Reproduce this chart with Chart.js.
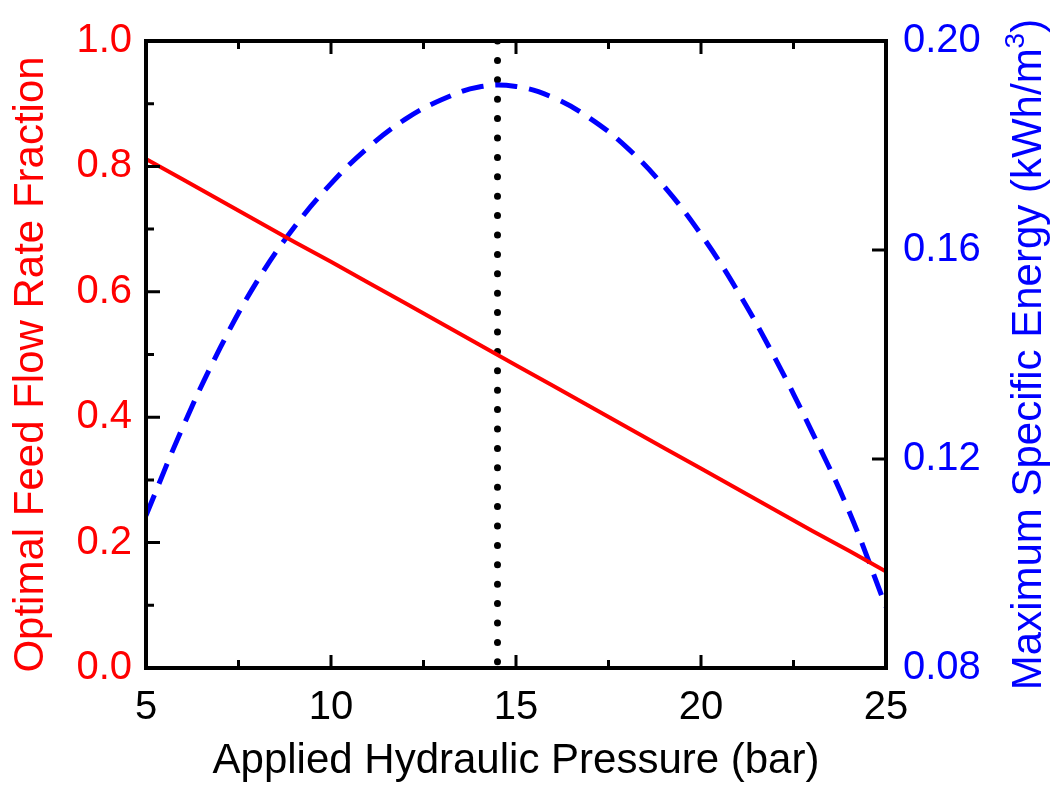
<!DOCTYPE html>
<html>
<head>
<meta charset="utf-8">
<script src="https://cdn.jsdelivr.net/npm/chart.js@4.4.1/dist/chart.umd.min.js"></script>
<style>
  html, body { margin: 0; padding: 0; background: #fff; }
  #wrap { width: 1055px; height: 788px; }
</style>
</head>
<body>
<div id="wrap"><canvas id="chart"></canvas></div>
<script>
// values
var pressure = [5, 6, 7, 8, 9, 10, 11, 12, 13, 14, 15, 16, 17, 18, 19, 20, 21, 22, 23, 24, 25];
var feedFraction = [0.812, 0.779, 0.746, 0.713, 0.680, 0.648, 0.615, 0.582, 0.549, 0.516, 0.483,
                    0.450, 0.417, 0.384, 0.351, 0.318, 0.285, 0.252, 0.219, 0.187, 0.154];
var specificEnergy = [0.1092, 0.1262, 0.1412, 0.1540, 0.1643, 0.1727, 0.1796, 0.1850, 0.1888, 0.1912, 0.1913,
                      0.1892, 0.1852, 0.1796, 0.1722, 0.1630, 0.1520, 0.1393, 0.1252, 0.1100, 0.0917];
var optimumPressure = 14.5;
var pressureMinorTicks = [7.5, 12.5, 17.5, 22.5];
var fractionMinorTicks = [0.1, 0.3, 0.5, 0.7, 0.9];

var FONT = '"Liberation Sans", Arial, sans-serif';
Chart.defaults.font.family = FONT;

function toPoints(xs, ys) {
  return xs.map(function (x, i) { return { x: x, y: ys[i] }; });
}

// box frame, inward ticks and the two y titles (both read bottom to top)
var frameTicks = {
  id: 'frameTicks',
  afterDraw: function (chart) {
    var ctx = chart.ctx, a = chart.chartArea;
    var sx = chart.scales.x, sy = chart.scales.y, sy2 = chart.scales.y2;
    ctx.save();
    ctx.strokeStyle = '#000';
    ctx.lineWidth = 3;
    ctx.beginPath();
    function xTick(v, len) {
      var px = sx.getPixelForValue(v);
      ctx.moveTo(px, a.bottom); ctx.lineTo(px, a.bottom - len);
      ctx.moveTo(px, a.top); ctx.lineTo(px, a.top + len);
    }
    sx.ticks.forEach(function (t) { xTick(t.value, 13); });
    pressureMinorTicks.forEach(function (v) { xTick(v, 8); });
    sy.ticks.forEach(function (t) {
      var py = sy.getPixelForValue(t.value);
      ctx.moveTo(a.left, py); ctx.lineTo(a.left + 14, py);
    });
    fractionMinorTicks.forEach(function (v) {
      var py = sy.getPixelForValue(v);
      ctx.moveTo(a.left, py); ctx.lineTo(a.left + 8, py);
    });
    sy2.ticks.forEach(function (t) {
      var py = sy2.getPixelForValue(t.value);
      ctx.moveTo(a.right, py); ctx.lineTo(a.right - 14, py);
    });
    ctx.stroke();
    ctx.lineWidth = 4;
    ctx.strokeRect(a.left, a.top, a.width, a.height);

    ctx.textBaseline = 'middle';
    ctx.textAlign = 'left';

    // left axis title
    ctx.save();
    ctx.translate(31, (a.top + a.bottom) / 2 + 10);
    ctx.rotate(-Math.PI / 2);
    ctx.fillStyle = '#ff0000';
    ctx.textAlign = 'center';
    ctx.font = '42px ' + FONT;
    ctx.fillText('Optimal Feed Flow Rate Fraction', 0, 0);
    ctx.restore();

    // right axis title with superscript
    var main = 'Maximum Specific Energy (kWh/m';
    ctx.translate(1029, (a.top + a.bottom) / 2);
    ctx.rotate(-Math.PI / 2);
    ctx.fillStyle = '#0000ff';
    ctx.font = '42px ' + FONT;
    var w1 = ctx.measureText(main).width;
    var wc = ctx.measureText(')').width;
    ctx.font = '28px ' + FONT;
    var ws = ctx.measureText('3').width;
    var x0 = -(w1 + ws + wc) / 2;
    ctx.font = '42px ' + FONT;
    ctx.fillText(main, x0, 0);
    ctx.font = '28px ' + FONT;
    ctx.fillText('3', x0 + w1, -13);
    ctx.font = '42px ' + FONT;
    ctx.fillText(')', x0 + w1 + ws, 0);
    ctx.restore();
  }
};

new Chart(document.getElementById('chart'), {
  type: 'line',
  data: {
    datasets: [
      {
        label: 'Optimal Feed Flow Rate Fraction',
        data: toPoints(pressure, feedFraction),
        yAxisID: 'y',
        borderColor: '#ff0000',
        borderWidth: 4,
        pointRadius: 0,
        tension: 0
      },
      {
        label: 'Maximum Specific Energy',
        data: toPoints(pressure, specificEnergy),
        yAxisID: 'y2',
        borderColor: '#0000ff',
        borderWidth: 5,
        borderDash: [22, 12],
        pointRadius: 0,
        tension: 0.4
      },
      {
        label: 'optimum',
        data: [{ x: optimumPressure, y: 1 }, { x: optimumPressure, y: 0 }],
        yAxisID: 'y',
        borderColor: '#000',
        borderWidth: 7,
        borderDash: [0, 19.4],
        borderCapStyle: 'round',
        pointRadius: 0
      }
    ]
  },
  options: {
    animation: false,
    responsive: true,
    maintainAspectRatio: false,
    layout: { padding: { top: 40, left: 0, right: 0, bottom: 0 } },
    plugins: {
      legend: { display: false },
      tooltip: { enabled: false }
    },
    scales: {
      x: {
        type: 'linear',
        position: 'bottom',
        min: 5,
        max: 25,
        grid: { display: false, drawTicks: false },
        border: { display: false },
        ticks: {
          stepSize: 5,
          color: '#000',
          font: { size: 40 },
          padding: 16,
          maxRotation: 0
        },
        title: {
          display: true,
          text: 'Applied Hydraulic Pressure (bar)',
          color: '#000',
          font: { size: 42 },
          padding: { top: 0, bottom: 1 }
        },
        afterFit: function (s) { s.height = 120; }
      },
      y: {
        position: 'left',
        min: 0,
        max: 1,
        grid: { display: false, drawTicks: false },
        border: { display: false },
        ticks: {
          stepSize: 0.2,
          color: '#ff0000',
          font: { size: 40 },
          padding: 14,
          callback: function (v) { return v.toFixed(1); }
        },
        afterFit: function (s) { s.width = 146; }
      },
      y2: {
        position: 'right',
        min: 0.08,
        max: 0.2,
        grid: { display: false, drawTicks: false },
        border: { display: false },
        ticks: {
          stepSize: 0.04,
          color: '#0000ff',
          font: { size: 40 },
          padding: 17,
          callback: function (v) { return v.toFixed(2); }
        },
        afterFit: function (s) { s.width = 169; }
      }
    }
  },
  plugins: [frameTicks]
});
</script>
</body>
</html>
